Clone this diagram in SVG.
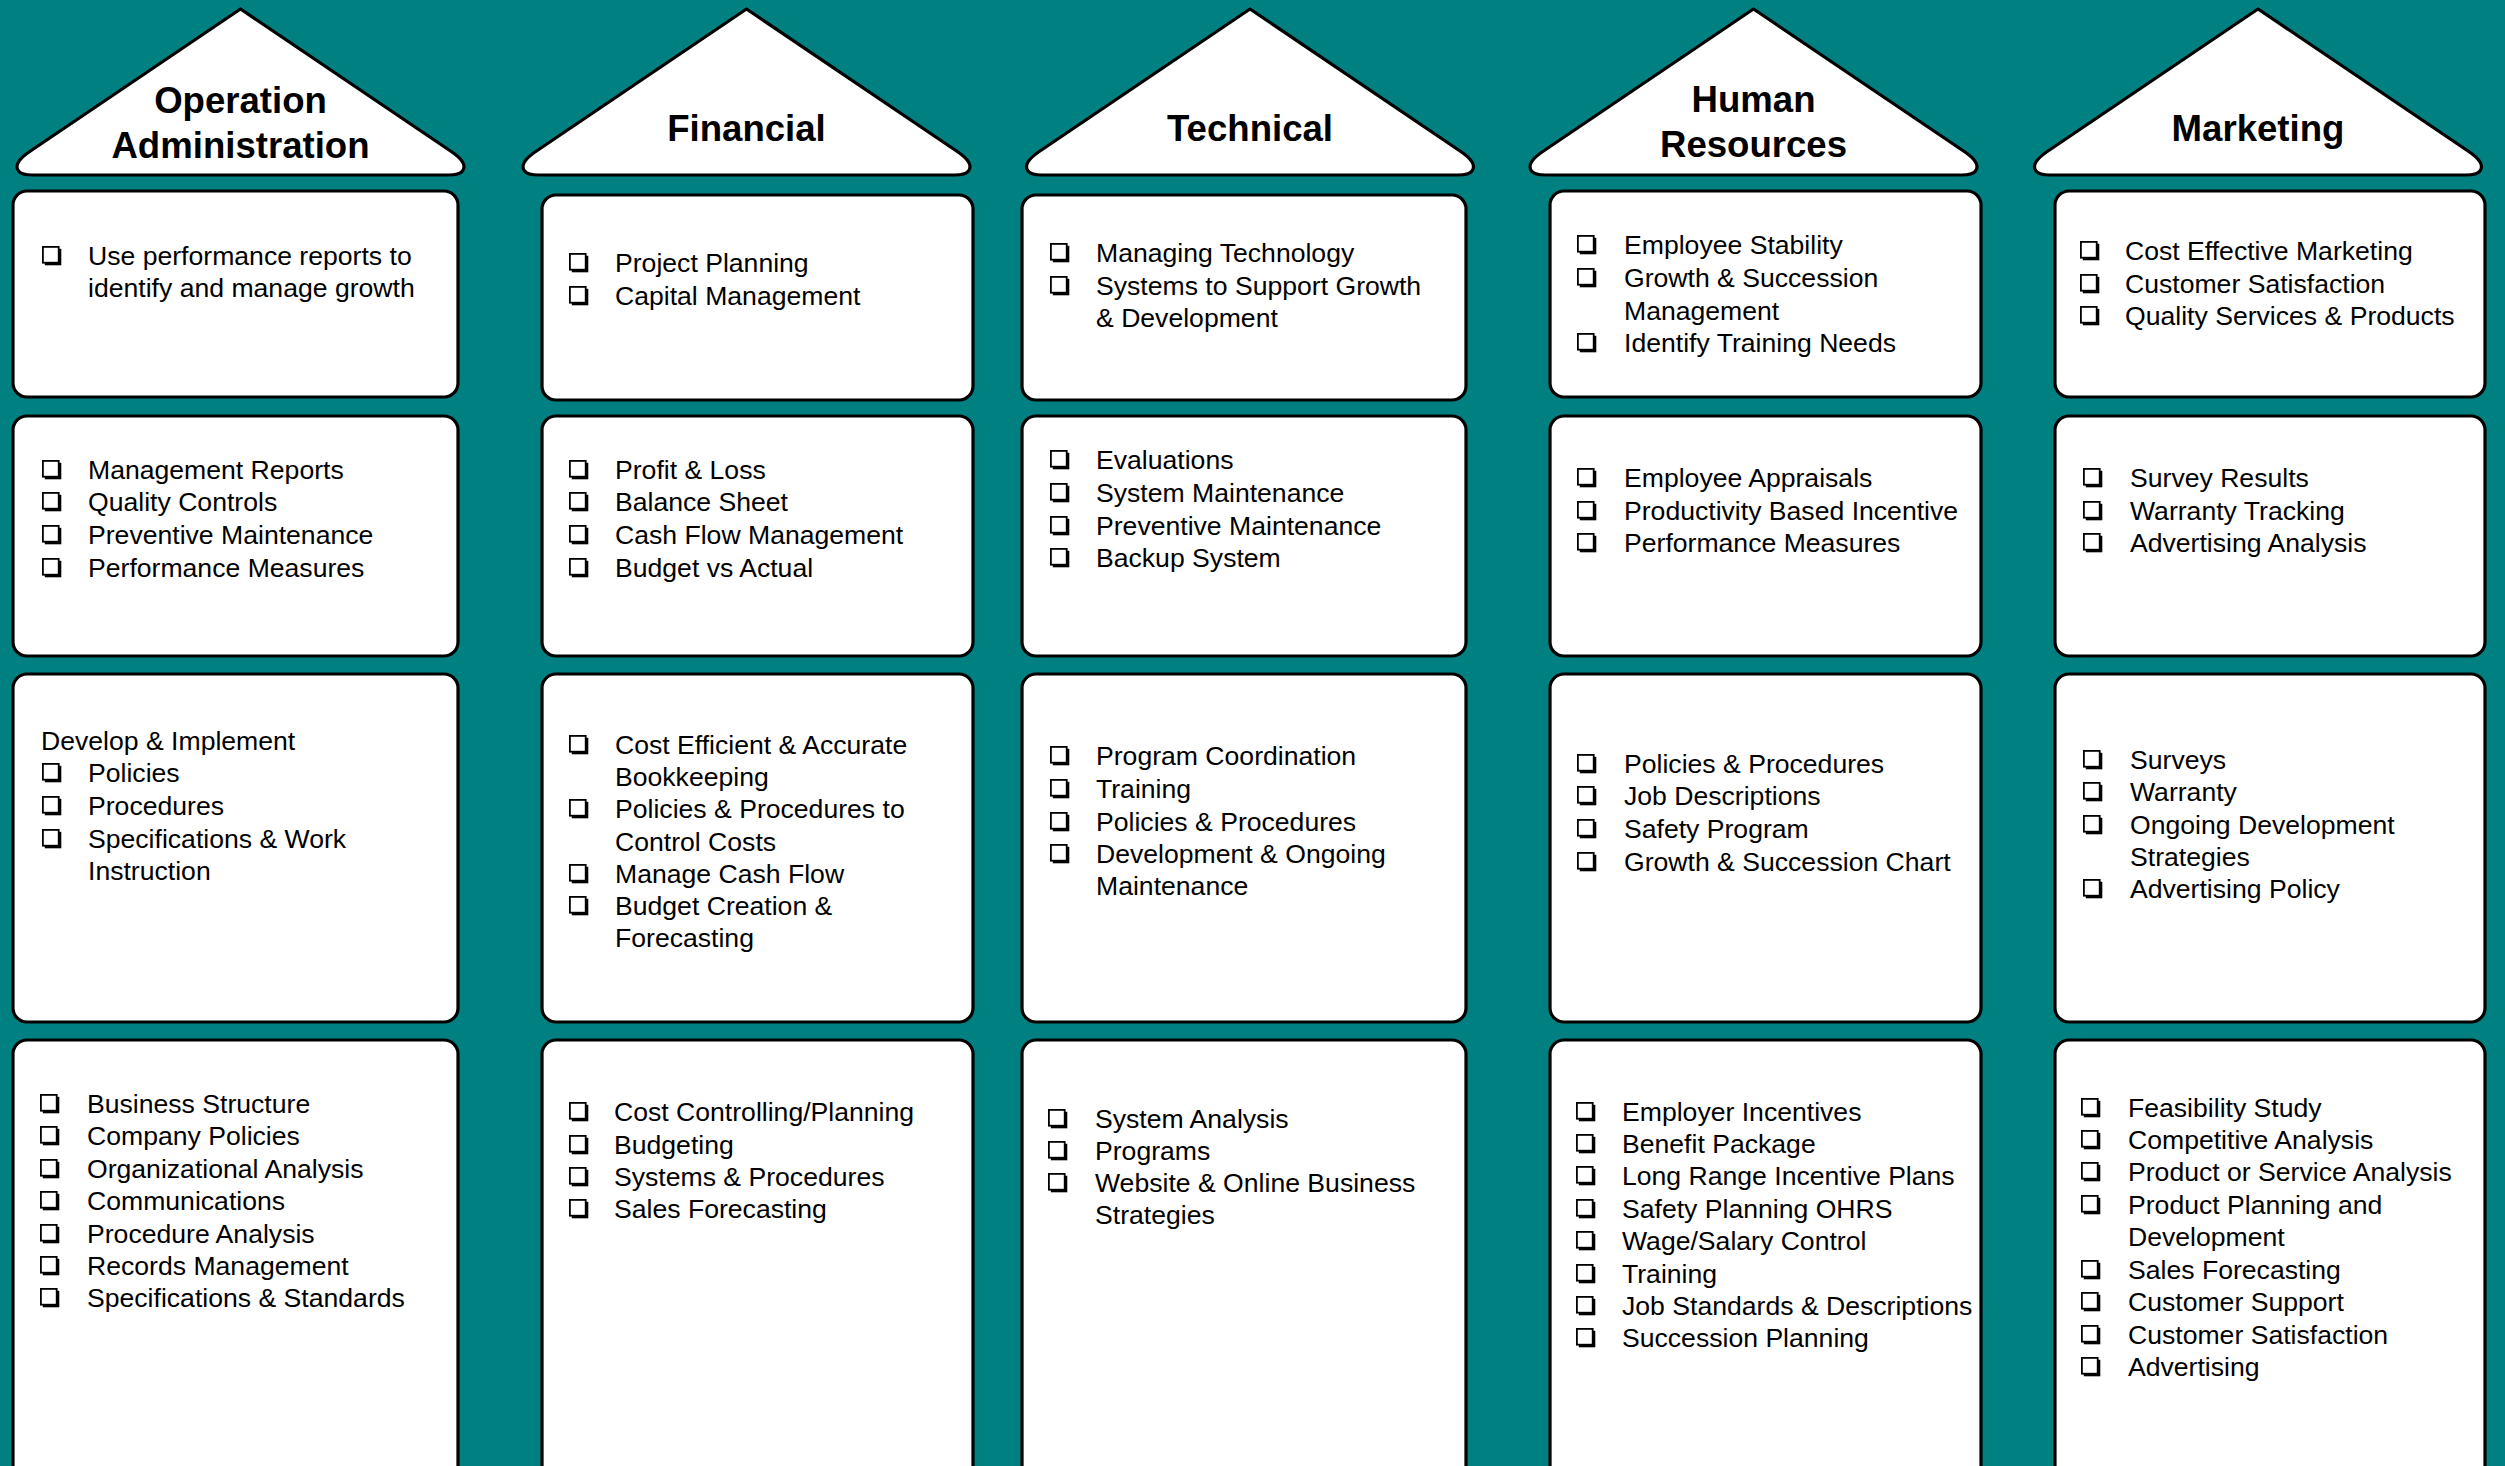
<svg xmlns="http://www.w3.org/2000/svg" xmlns:xlink="http://www.w3.org/1999/xlink" width="2505" height="1466" viewBox="0 0 2505 1466">
<style>
.box{fill:#fff;stroke:#000;stroke-width:3.2}
.roof{fill:#fff;stroke:#000;stroke-width:3.2;stroke-linejoin:round}
.t{font-family:"Liberation Sans",Arial,sans-serif;font-size:26.6px;fill:#000;transform:translateY(1.5px)}
.h{font-family:"Liberation Sans",Arial,sans-serif;font-size:36.6px;font-weight:bold;fill:#000;text-anchor:middle;transform:translateY(1.5px)}
use[href="#cb"]{transform:translateY(1.5px)}
</style>
<defs>
<path id="roof" class="roof" d="M0,9 L210,151 Q228,163 222,171 Q219,175 208,175 L-208,175 Q-219,175 -222,171 Q-228,163 -210,151 Z"/>
<g id="cb"><rect x="2.8" y="-15.7" width="16.5" height="16.5" fill="#000"/><rect x="0.9" y="-17.6" width="15.8" height="15.8" fill="#fff" stroke="#000" stroke-width="1.8"/></g>
</defs>
<rect width="2505" height="1466" fill="#008080"/>

<g id="connectors"></g>

<!-- Column 1: Operation Administration -->
<g id="head-operation">
<use href="#roof" x="240.5"/>
<text class="h" x="240.5" y="111">Operation</text>
<text class="h" x="240.5" y="156">Administration</text>
</g>
<g id="op-r1">
<rect class="box" x="13" y="191" width="445" height="206" rx="14"/>
<use href="#cb" x="42" y="263"/>
<text class="t" x="88" y="263">Use performance reports to</text>
<text class="t" x="88" y="295">identify and manage growth</text>
</g>
<g id="op-r2">
<rect class="box" x="13" y="416" width="445" height="240" rx="14"/>
<use href="#cb" x="42" y="477"/><text class="t" x="88" y="477">Management Reports</text>
<use href="#cb" x="42" y="509"/><text class="t" x="88" y="509">Quality Controls</text>
<use href="#cb" x="42" y="542"/><text class="t" x="88" y="542">Preventive Maintenance</text>
<use href="#cb" x="42" y="575"/><text class="t" x="88" y="575">Performance Measures</text>
</g>
<g id="op-r3">
<rect class="box" x="13" y="674" width="445" height="348" rx="14"/>
<text class="t" x="41" y="748">Develop &amp; Implement</text>
<use href="#cb" x="42" y="780"/><text class="t" x="88" y="780">Policies</text>
<use href="#cb" x="42" y="813"/><text class="t" x="88" y="813">Procedures</text>
<use href="#cb" x="42" y="846"/><text class="t" x="88" y="846">Specifications &amp; Work</text>
<text class="t" x="88" y="878">Instruction</text>
</g>
<g id="op-r4">
<rect class="box" x="13" y="1040" width="445" height="460" rx="14"/>
<use href="#cb" x="40" y="1111"/><text class="t" x="87" y="1111">Business Structure</text>
<use href="#cb" x="40" y="1143"/><text class="t" x="87" y="1143">Company Policies</text>
<use href="#cb" x="40" y="1176"/><text class="t" x="87" y="1176">Organizational Analysis</text>
<use href="#cb" x="40" y="1208"/><text class="t" x="87" y="1208">Communications</text>
<use href="#cb" x="40" y="1241"/><text class="t" x="87" y="1241">Procedure Analysis</text>
<use href="#cb" x="40" y="1273"/><text class="t" x="87" y="1273">Records Management</text>
<use href="#cb" x="40" y="1305"/><text class="t" x="87" y="1305">Specifications &amp; Standards</text>
</g>

<!-- Column 2: Financial -->
<g id="head-financial">
<use href="#roof" x="746.5"/>
<text class="h" x="746.5" y="139">Financial</text>
</g>
<g id="fin-r1">
<rect class="box" x="542" y="195" width="431" height="205" rx="14"/>
<use href="#cb" x="569" y="270"/><text class="t" x="615" y="270">Project Planning</text>
<use href="#cb" x="569" y="303"/><text class="t" x="615" y="303">Capital Management</text>
</g>
<g id="fin-r2">
<rect class="box" x="542" y="416" width="431" height="240" rx="14"/>
<use href="#cb" x="569" y="477"/><text class="t" x="615" y="477">Profit &amp; Loss</text>
<use href="#cb" x="569" y="509"/><text class="t" x="615" y="509">Balance Sheet</text>
<use href="#cb" x="569" y="542"/><text class="t" x="615" y="542">Cash Flow Management</text>
<use href="#cb" x="569" y="575"/><text class="t" x="615" y="575">Budget vs Actual</text>
</g>
<g id="fin-r3">
<rect class="box" x="542" y="674" width="431" height="348" rx="14"/>
<use href="#cb" x="569" y="752"/><text class="t" x="615" y="752">Cost Efficient &amp; Accurate</text>
<text class="t" x="615" y="784">Bookkeeping</text>
<use href="#cb" x="569" y="816"/><text class="t" x="615" y="816">Policies &amp; Procedures to</text>
<text class="t" x="615" y="849">Control Costs</text>
<use href="#cb" x="569" y="881"/><text class="t" x="615" y="881">Manage Cash Flow</text>
<use href="#cb" x="569" y="913"/><text class="t" x="615" y="913">Budget Creation &amp;</text>
<text class="t" x="615" y="945">Forecasting</text>
</g>
<g id="fin-r4">
<rect class="box" x="542" y="1040" width="431" height="460" rx="14"/>
<use href="#cb" x="569" y="1119"/><text class="t" x="614" y="1119">Cost Controlling/Planning</text>
<use href="#cb" x="569" y="1152"/><text class="t" x="614" y="1152">Budgeting</text>
<use href="#cb" x="569" y="1184"/><text class="t" x="614" y="1184">Systems &amp; Procedures</text>
<use href="#cb" x="569" y="1216"/><text class="t" x="614" y="1216">Sales Forecasting</text>
</g>

<!-- Column 3: Technical -->
<g id="head-technical">
<use href="#roof" x="1250"/>
<text class="h" x="1250" y="139">Technical</text>
</g>
<g id="tech-r1">
<rect class="box" x="1022" y="195" width="444" height="205" rx="14"/>
<use href="#cb" x="1050" y="260"/><text class="t" x="1096" y="260">Managing Technology</text>
<use href="#cb" x="1050" y="293"/><text class="t" x="1096" y="293">Systems to Support Growth</text>
<text class="t" x="1096" y="325">&amp; Development</text>
</g>
<g id="tech-r2">
<rect class="box" x="1022" y="416" width="444" height="240" rx="14"/>
<use href="#cb" x="1050" y="467"/><text class="t" x="1096" y="467">Evaluations</text>
<use href="#cb" x="1050" y="500"/><text class="t" x="1096" y="500">System Maintenance</text>
<use href="#cb" x="1050" y="533"/><text class="t" x="1096" y="533">Preventive Maintenance</text>
<use href="#cb" x="1050" y="565"/><text class="t" x="1096" y="565">Backup System</text>
</g>
<g id="tech-r3">
<rect class="box" x="1022" y="674" width="444" height="348" rx="14"/>
<use href="#cb" x="1050" y="763"/><text class="t" x="1096" y="763">Program Coordination</text>
<use href="#cb" x="1050" y="796"/><text class="t" x="1096" y="796">Training</text>
<use href="#cb" x="1050" y="829"/><text class="t" x="1096" y="829">Policies &amp; Procedures</text>
<use href="#cb" x="1050" y="861"/><text class="t" x="1096" y="861">Development &amp; Ongoing</text>
<text class="t" x="1096" y="893">Maintenance</text>
</g>
<g id="tech-r4">
<rect class="box" x="1022" y="1040" width="444" height="460" rx="14"/>
<use href="#cb" x="1048" y="1126"/><text class="t" x="1095" y="1126">System Analysis</text>
<use href="#cb" x="1048" y="1158"/><text class="t" x="1095" y="1158">Programs</text>
<use href="#cb" x="1048" y="1190"/><text class="t" x="1095" y="1190">Website &amp; Online Business</text>
<text class="t" x="1095" y="1222">Strategies</text>
</g>

<!-- Column 4: Human Resources -->
<g id="head-hr">
<use href="#roof" x="1753.5"/>
<text class="h" x="1753.5" y="110">Human</text>
<text class="h" x="1753.5" y="155">Resources</text>
</g>
<g id="hr-r1">
<rect class="box" x="1550" y="191" width="431" height="206" rx="14"/>
<use href="#cb" x="1577" y="252"/><text class="t" x="1624" y="252">Employee Stability</text>
<use href="#cb" x="1577" y="285"/><text class="t" x="1624" y="285">Growth &amp; Succession</text>
<text class="t" x="1624" y="318">Management</text>
<use href="#cb" x="1577" y="350"/><text class="t" x="1624" y="350">Identify Training Needs</text>
</g>
<g id="hr-r2">
<rect class="box" x="1550" y="416" width="431" height="240" rx="14"/>
<use href="#cb" x="1577" y="485"/><text class="t" x="1624" y="485">Employee Appraisals</text>
<use href="#cb" x="1577" y="518"/><text class="t" x="1624" y="518">Productivity Based Incentive</text>
<use href="#cb" x="1577" y="550"/><text class="t" x="1624" y="550">Performance Measures</text>
</g>
<g id="hr-r3">
<rect class="box" x="1550" y="674" width="431" height="348" rx="14"/>
<use href="#cb" x="1577" y="771"/><text class="t" x="1624" y="771">Policies &amp; Procedures</text>
<use href="#cb" x="1577" y="803"/><text class="t" x="1624" y="803">Job Descriptions</text>
<use href="#cb" x="1577" y="836"/><text class="t" x="1624" y="836">Safety Program</text>
<use href="#cb" x="1577" y="869"/><text class="t" x="1624" y="869">Growth &amp; Succession Chart</text>
</g>
<g id="hr-r4">
<rect class="box" x="1550" y="1040" width="431" height="460" rx="14"/>
<use href="#cb" x="1576" y="1119"/><text class="t" x="1622" y="1119">Employer Incentives</text>
<use href="#cb" x="1576" y="1151"/><text class="t" x="1622" y="1151">Benefit Package</text>
<use href="#cb" x="1576" y="1183"/><text class="t" x="1622" y="1183">Long Range Incentive Plans</text>
<use href="#cb" x="1576" y="1216"/><text class="t" x="1622" y="1216">Safety Planning OHRS</text>
<use href="#cb" x="1576" y="1248"/><text class="t" x="1622" y="1248">Wage/Salary Control</text>
<use href="#cb" x="1576" y="1281"/><text class="t" x="1622" y="1281">Training</text>
<use href="#cb" x="1576" y="1313"/><text class="t" x="1622" y="1313">Job Standards &amp; Descriptions</text>
<use href="#cb" x="1576" y="1345"/><text class="t" x="1622" y="1345">Succession Planning</text>
</g>

<!-- Column 5: Marketing -->
<g id="head-marketing">
<use href="#roof" x="2258"/>
<text class="h" x="2258" y="139">Marketing</text>
</g>
<g id="mkt-r1">
<rect class="box" x="2055" y="191" width="430" height="206" rx="14"/>
<use href="#cb" x="2080" y="258"/><text class="t" x="2125" y="258">Cost Effective Marketing</text>
<use href="#cb" x="2080" y="291"/><text class="t" x="2125" y="291">Customer Satisfaction</text>
<use href="#cb" x="2080" y="323"/><text class="t" x="2125" y="323">Quality Services &amp; Products</text>
</g>
<g id="mkt-r2">
<rect class="box" x="2055" y="416" width="430" height="240" rx="14"/>
<use href="#cb" x="2083" y="485"/><text class="t" x="2130" y="485">Survey Results</text>
<use href="#cb" x="2083" y="518"/><text class="t" x="2130" y="518">Warranty Tracking</text>
<use href="#cb" x="2083" y="550"/><text class="t" x="2130" y="550">Advertising Analysis</text>
</g>
<g id="mkt-r3">
<rect class="box" x="2055" y="674" width="430" height="348" rx="14"/>
<use href="#cb" x="2083" y="767"/><text class="t" x="2130" y="767">Surveys</text>
<use href="#cb" x="2083" y="799"/><text class="t" x="2130" y="799">Warranty</text>
<use href="#cb" x="2083" y="832"/><text class="t" x="2130" y="832">Ongoing Development</text>
<text class="t" x="2130" y="864">Strategies</text>
<use href="#cb" x="2083" y="896"/><text class="t" x="2130" y="896">Advertising Policy</text>
</g>
<g id="mkt-r4">
<rect class="box" x="2055" y="1040" width="430" height="460" rx="14"/>
<use href="#cb" x="2081" y="1115"/><text class="t" x="2128" y="1115">Feasibility Study</text>
<use href="#cb" x="2081" y="1147"/><text class="t" x="2128" y="1147">Competitive Analysis</text>
<use href="#cb" x="2081" y="1179"/><text class="t" x="2128" y="1179">Product or Service Analysis</text>
<use href="#cb" x="2081" y="1212"/><text class="t" x="2128" y="1212">Product Planning and</text>
<text class="t" x="2128" y="1244">Development</text>
<use href="#cb" x="2081" y="1277"/><text class="t" x="2128" y="1277">Sales Forecasting</text>
<use href="#cb" x="2081" y="1309"/><text class="t" x="2128" y="1309">Customer Support</text>
<use href="#cb" x="2081" y="1342"/><text class="t" x="2128" y="1342">Customer Satisfaction</text>
<use href="#cb" x="2081" y="1374"/><text class="t" x="2128" y="1374">Advertising</text>
</g>
</svg>
